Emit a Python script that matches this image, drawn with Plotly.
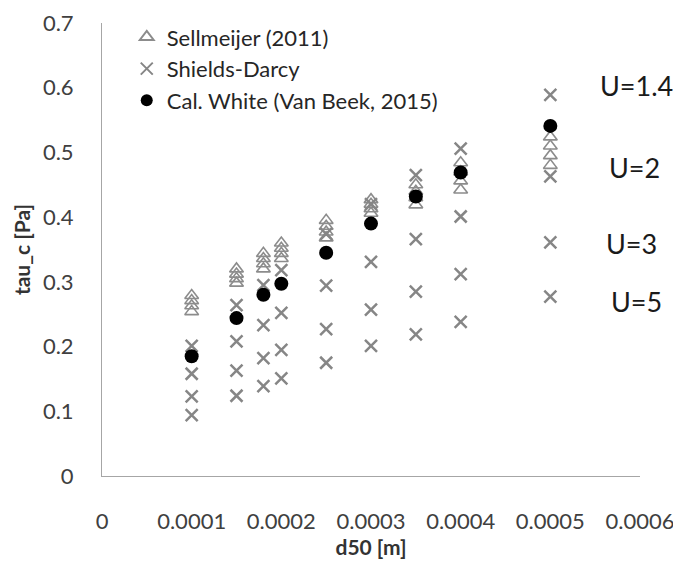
import plotly.graph_objects as go

# ---- data ----
d50 = [0.0001, 0.00015, 0.00018, 0.0002, 0.00025, 0.0003, 0.00035, 0.0004, 0.0005]

sell_a = [0.254, 0.298, 0.320, 0.336, 0.368, 0.406, 0.419, 0.442, 0.480]
sell_b = [0.263, 0.305, 0.328, 0.344, 0.377, 0.413, 0.430, 0.456, 0.495]
sell_c = [0.271, 0.312, 0.336, 0.352, 0.386, 0.420, 0.440, 0.470, 0.510]
sell_d = [0.279, 0.320, 0.344, 0.360, 0.395, 0.427, 0.450, 0.484, 0.524]

sd_u14 = [0.201, 0.264, 0.295, 0.318, 0.374, 0.420, 0.465, 0.506, 0.589]
sd_u2 = [0.158, 0.208, 0.233, 0.252, 0.294, 0.331, 0.366, 0.401, 0.463]
sd_u3 = [0.123, 0.163, 0.182, 0.195, 0.227, 0.257, 0.285, 0.312, 0.361]
sd_u5 = [0.094, 0.124, 0.139, 0.151, 0.175, 0.201, 0.219, 0.238, 0.277]

white = [0.185, 0.244, 0.280, 0.297, 0.345, 0.390, 0.432, 0.469, 0.541]

x_ticks = [0, 0.0001, 0.0002, 0.0003, 0.0004, 0.0005, 0.0006]
x_ticktext = ["0", "0.0001", "0.0002", "0.0003", "0.0004", "0.0005", "0.0006"]
y_ticks = [0, 0.1, 0.2, 0.3, 0.4, 0.5, 0.6, 0.7]
y_ticktext = ["0", "0.1", "0.2", "0.3", "0.4", "0.5", "0.6", "0.7"]

u_labels = ["U=1.4", "U=2", "U=3", "U=5"]
u_label_y = [0.604, 0.476, 0.360, 0.270]
u_label_xpaper = [0.994, 0.989, 0.985, 0.993]

FONT = "Lato, Carlito, Calibri, sans-serif"
fig = go.Figure()

tri_color = "#8c8c8c"
x_color = "#868686"

for i, s in enumerate([sell_a, sell_b, sell_c, sell_d]):
    fig.add_trace(go.Scatter(
        x=d50, y=s, mode="markers", name="Sellmeijer (2011)",
        legendgroup="sell", showlegend=(i == 0), cliponaxis=False,
        marker=dict(symbol="triangle-up-open", size=12, color=tri_color,
                    line=dict(width=1.6, color=tri_color)),
    ))

for i, s in enumerate([sd_u14, sd_u2, sd_u3, sd_u5]):
    fig.add_trace(go.Scatter(
        x=d50, y=s, mode="markers", name="Shields-Darcy",
        legendgroup="sd", showlegend=(i == 0), cliponaxis=False,
        marker=dict(symbol="x-thin-open", size=12, color=x_color,
                    line=dict(width=2.5, color=x_color)),
    ))

fig.add_trace(go.Scatter(
    x=d50, y=white, mode="markers", name="Cal. White (Van Beek, 2015)",
    legendgroup="white", cliponaxis=False,
    marker=dict(symbol="circle", size=14, color="black"),
))

for t, yv, xp in zip(u_labels, u_label_y, u_label_xpaper):
    fig.add_annotation(text=t, x=xp, xref="paper", y=yv, yref="y",
                       showarrow=False, xanchor="center", yanchor="middle",
                       font=dict(family=FONT, size=27, color="#1a1a1a"))

axis_font = dict(family=FONT, size=22, color="#404040")
fig.update_layout(
    width=681, height=565,
    margin=dict(l=94, r=49, t=15, b=97, autoexpand=False),
    paper_bgcolor="white", plot_bgcolor="white",
    font=dict(family=FONT, size=21, color="#404040"),
    showlegend=True,
    legend=dict(x=0.046, y=1.015, xanchor="left", yanchor="top",
                bgcolor="rgba(0,0,0,0)", font=dict(family=FONT, size=22, color="#262626"),
                itemsizing="constant", tracegroupgap=0),
    xaxis=dict(range=[0, 0.0006], tickvals=x_ticks, ticktext=x_ticktext,
               showgrid=False, zeroline=False, showline=True, linecolor="#a6a6a6",
               linewidth=1, ticks="", tickfont=axis_font, ticklabelstandoff=26,
               automargin=False,
               title=dict(text="<b>d50 [m]</b>", font=dict(family=FONT, size=21, color="#333333"),
                          standoff=2)),
    yaxis=dict(range=[0, 0.7], tickvals=y_ticks, ticktext=y_ticktext,
               showgrid=False, zeroline=False, showline=True, linecolor="#a6a6a6",
               linewidth=1, ticks="", tickfont=axis_font, ticklabelstandoff=23,
               automargin=False,
               title=dict(text="<b>tau_c [Pa]</b>", font=dict(family=FONT, size=21, color="#333333"),
                          standoff=6)),
)

fig.write_html("out.html")
